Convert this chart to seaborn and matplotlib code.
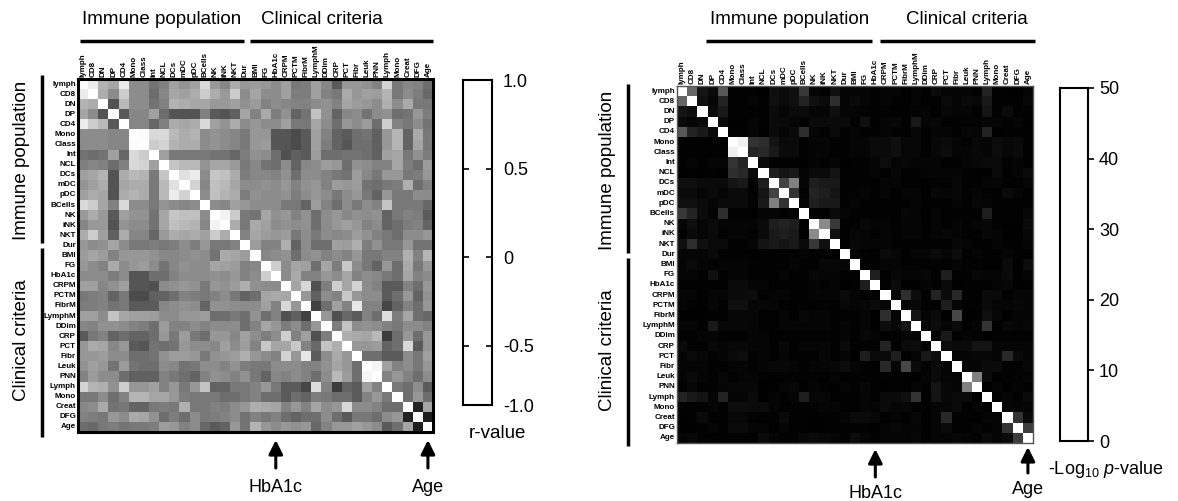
import numpy as np
import matplotlib
matplotlib.use("Agg")
import matplotlib.pyplot as plt
import matplotlib.transforms as mtransforms
from matplotlib.lines import Line2D
import seaborn as sns

# ---------------- data ----------------
labels = ["lymph", "CD8", "DN", "DP", "CD4", "Mono", "Class", "Int", "NCL", "DCs",
          "mDC", "pDC", "BCells", "NK", "iNK", "NKT",
          "Dur", "BMI", "FG", "HbA1c", "CRPM", "PCTM", "FibrM", "LymphM", "DDim",
          "CRP", "PCT", "Fibr", "Leuk", "PNN", "Lymph", "Mono", "Creat", "DFG", "Age"]

# lower triangle of the Pearson r matrix (row i has i+1 values)
r_lower = [
    [1],
    [0.85, 1],
    [0.4, 0.35, 1],
    [0.3, 0.1, -0.35, 1],
    [0.85, 0.6, 0.45, -0.3, 1],
    [0.1, 0.1, 0.1, 0.05, 0.05, 1],
    [0.1, 0.1, 0.1, 0.05, 0.05, 0.97, 1],
    [-0.1, -0.15, -0.1, 0.25, -0.2, 0.7, 0.6, 1],
    [0.0, 0.05, 0.0, -0.15, 0.0, 0.7, 0.65, 0.25, 1],
    [0.25, 0.3, 0.4, -0.35, 0.35, 0.45, 0.4, -0.05, 0.55, 1],
    [0.15, 0.25, 0.35, -0.35, 0.3, 0.35, 0.35, -0.05, 0.45, 0.75, 1],
    [0.25, 0.35, 0.3, -0.35, 0.35, 0.4, 0.35, -0.05, 0.45, 0.85, 0.65, 1],
    [0.7, 0.6, 0.3, 0.0, 0.7, 0.1, 0.1, -0.05, 0.15, 0.1, 0.05, 0.1, 1],
    [0.2, 0.35, 0.2, -0.3, 0.25, 0.15, 0.15, -0.1, 0.3, 0.55, 0.5, 0.5, 0.1, 1],
    [0.05, 0.2, 0.2, -0.35, 0.15, 0.1, 0.1, -0.1, 0.3, 0.5, 0.45, 0.4, 0.05, 0.9, 1],
    [0.35, 0.6, 0.25, -0.25, 0.35, 0.05, 0.05, -0.2, 0.2, 0.35, 0.3, 0.35, 0.25, 0.6, 0.35, 1],
    [0.18, 0.1, 0.14, 0.29, 0.1, -0.06, -0.06, -0.02, -0.06, -0.02, 0.1, -0.02, 0.18, -0.06, -0.06, 0.02, 1],
    [0.22, 0.29, 0.22, 0.02, 0.18, 0.18, 0.18, 0.14, 0.06, 0.06, 0.1, 0.14, 0.1, -0.1, 0.33, 0.29, 0.22, 1],
    [0.18, 0.1, 0.02, 0.33, 0.1, 0.18, 0.22, 0.1, -0.1, 0.06, 0.14, 0.1, 0.1, 0.29, 0.25, 0.22, 0.02, 0.06, 1],
    [0.1, 0.1, 0.1, -0.02, 0.1, -0.33, -0.33, -0.14, -0.14, 0.02, 0.1, 0.1, 0.1, 0.14, 0.1, 0.18, 0.02, 0.1, 0.61, 1],
    [0.25, 0.25, 0.06, 0.14, 0.25, -0.33, -0.33, -0.37, 0.1, 0.14, 0.18, 0.14, -0.06, 0.18, 0.14, 0.22, 0.37, 0.14, 0.1, 0.1, 1],
    [-0.06, -0.02, 0.02, -0.22, -0.06, -0.41, -0.41, -0.25, -0.22, -0.14, 0.02, -0.02, -0.06, 0.02, 0.1, -0.06, -0.22, -0.14, 0.29, 0.33, 0.29, 1],
    [-0.02, -0.02, 0.02, -0.1, -0.06, -0.29, -0.29, -0.29, 0.06, 0.1, 0.14, 0.1, -0.22, 0.14, 0.14, 0.1, 0.1, 0.1, 0.25, 0.02, 0.69, 0.18, 1],
    [0.25, 0.25, 0.1, 0.53, 0.29, 0.25, 0.25, 0.22, 0.1, 0.1, 0.18, 0.18, 0.22, -0.14, -0.14, -0.06, -0.14, 0.14, -0.14, 0.02, -0.37, -0.25, -0.49, 1],
    [0.06, 0.02, 0.14, 0.14, 0.1, 0.02, -0.02, -0.14, 0.22, 0.02, 0.02, 0.1, 0.02, 0.1, 0.1, 0.1, -0.14, 0.02, 0.29, 0.18, -0.02, 0.1, -0.14, 0.18, 1],
    [-0.29, -0.06, 0.02, -0.22, -0.14, -0.22, -0.22, -0.14, 0.18, -0.06, 0.22, -0.06, -0.14, 0.18, 0.18, 0.06, 0.25, 0.1, -0.02, 0.1, 0.61, 0.02, 0.25, -0.37, -0.02, 1],
    [0.18, 0.33, 0.29, 0.06, 0.18, -0.29, -0.33, -0.1, -0.14, -0.1, 0.18, 0.1, 0.1, 0.06, 0.25, 0.1, 0.22, 0.02, 0.57, 0.29, 0.29, 0.57, 0.02, -0.18, 0.53, 0.37, 1],
    [0.18, 0.18, 0.22, 0.1, 0.1, -0.14, -0.14, -0.1, 0.14, 0.22, 0.22, 0.18, -0.06, 0.14, 0.18, 0.22, 0.37, 0.18, 0.1, 0.02, 0.65, 0.18, 0.8, -0.29, 0.1, 0.33, 0.18, 1],
    [0.14, 0.25, 0.18, -0.1, 0.22, -0.1, -0.14, -0.14, 0.1, 0.06, -0.1, -0.06, 0.1, 0.1, 0.02, 0.14, -0.02, -0.06, -0.06, 0.1, 0.1, 0.1, 0.02, 0.02, 0.14, 0.29, 0.18, -0.14, 1],
    [0.02, 0.22, 0.1, 0.1, -0.14, -0.25, -0.25, -0.25, 0.02, -0.06, -0.14, -0.22, 0.02, 0.14, 0.1, 0.02, 0.14, -0.06, -0.22, 0.06, 0.02, 0.1, 0.02, -0.14, 0.1, 0.45, 0.22, -0.14, 0.92, 1],
    [0.65, 0.41, 0.37, 0.14, 0.61, 0.18, 0.18, 0.25, 0.02, 0.18, -0.06, 0.18, 0.53, -0.22, -0.22, -0.06, -0.06, 0.02, 0.18, -0.06, -0.29, -0.29, -0.45, 0.73, 0.02, -0.53, -0.22, -0.29, 0.25, 0.02, 1],
    [-0.06, -0.06, 0.1, -0.14, 0.02, 0.41, 0.41, 0.29, 0.29, 0.18, -0.02, -0.06, -0.06, -0.06, -0.14, -0.14, -0.06, 0.02, -0.14, -0.14, -0.29, -0.14, -0.22, -0.02, -0.06, -0.14, -0.14, -0.29, 0.02, 0.18, -0.06, 1],
    [0.06, 0.1, 0.33, -0.1, -0.06, -0.22, -0.22, -0.06, -0.02, -0.06, 0.37, -0.06, -0.06, 0.02, -0.02, 0.1, 0.18, 0.37, 0.33, 0.29, 0.02, 0.18, 0.02, 0.29, 0.1, 0.18, 0.69, 0.1, 0.1, 0.02, -0.14, -0.14, 1],
    [0.02, -0.02, -0.06, 0.18, 0.1, 0.33, 0.29, 0.14, -0.14, -0.02, -0.14, 0.1, -0.06, -0.02, 0.02, 0.1, -0.1, 0.02, -0.06, 0.02, -0.14, -0.22, -0.14, -0.14, 0.1, -0.14, -0.29, -0.06, -0.06, -0.14, 0.1, 0.18, -0.73, 1],
    [-0.14, -0.18, -0.06, -0.02, -0.1, -0.06, -0.06, -0.02, 0.22, 0.18, 0.02, 0.1, -0.18, -0.29, -0.22, 0.18, -0.1, 0.41, 0.18, 0.1, 0.18, 0.14, 0.18, -0.18, 0.02, 0.18, 0.18, 0.25, 0.18, 0.1, -0.29, -0.14, 0.29, -0.76, 1],
]

# lower triangle of the -log10 p-value matrix
logp_lower = [
    [50],
    [20, 50],
    [4, 3, 50],
    [2, 1, 2, 50],
    [17, 7, 5, 2, 50],
    [0.5, 0.5, 0.5, 0.3, 0.5, 50],
    [0.5, 0.5, 0.5, 0.3, 0.5, 47, 50],
    [0.5, 1, 0.5, 1, 1, 10, 7, 50],
    [0.3, 0.5, 0.3, 0.5, 0.3, 9, 8, 2, 50],
    [3, 3, 2, 2, 2, 4, 5, 0.5, 6, 50],
    [2, 2, 1, 2, 1, 2, 2, 0.5, 4, 13, 50],
    [3, 3, 2, 1, 2, 2, 2, 0.5, 5, 25, 10, 50],
    [11, 7, 2, 0.5, 9, 0.5, 0.5, 0.3, 1, 1, 0.5, 1, 50],
    [1, 3, 1, 2, 1, 1, 1, 1, 2, 6, 7, 6, 0.5, 50],
    [0.5, 2, 1, 2, 0.5, 1, 1, 0.5, 2, 5, 6, 5, 0.3, 27, 50],
    [3, 9, 3, 2, 2, 0.5, 0.5, 1, 4, 5, 4, 5, 2, 11, 3, 50],
    [1, 1, 1, 2, 0.5, 0.5, 0.5, 0.3, 0.5, 0.5, 0.5, 0.5, 1, 0.5, 0.5, 0.3, 50],
    [1, 2, 1, 0.5, 1, 1, 1, 0.5, 0.5, 0.5, 0.5, 1, 0.5, 0.5, 1.5, 1.5, 1, 50],
    [1, 1, 0.5, 3, 0.5, 1, 1, 0.5, 0.5, 0.5, 1, 0.5, 0.5, 1.5, 1, 1, 0.5, 0.5, 50],
    [0.5, 0.5, 0.5, 0.3, 0.5, 2, 2, 1, 1, 0.3, 0.5, 0.5, 0.5, 1, 0.5, 1, 0.3, 0.5, 6, 50],
    [1, 1, 0.5, 1, 1, 2, 2, 2.5, 0.5, 1, 1, 0.5, 0.5, 1, 1, 1, 2, 1, 0.5, 0.5, 50],
    [1, 0.5, 0.3, 1.5, 0.5, 3, 3, 1, 1.5, 1, 0.3, 0.3, 0.5, 0.3, 0.5, 0.5, 1.5, 1, 1.5, 2, 1.5, 50],
    [0.3, 0.3, 0.3, 0.5, 0.5, 1.5, 1.5, 1.5, 0.5, 0.5, 1, 0.5, 1.5, 1, 1, 0.5, 0.5, 0.5, 1, 0.3, 9, 1, 50],
    [1, 1, 0.5, 5, 1.5, 1.5, 1.5, 1, 0.5, 0.5, 1, 1, 1, 1, 1, 0.5, 1, 0.5, 1, 0.3, 2.5, 1.5, 4, 50],
    [0.5, 0.3, 1, 1, 0.5, 0.3, 0.3, 1, 1, 0.3, 0.3, 0.5, 0.3, 0.5, 0.5, 0.5, 1, 0.3, 1.5, 1, 0.3, 0.5, 1, 1, 50],
    [2, 0.5, 0.3, 1.5, 1, 1.5, 1.5, 1, 1, 0.5, 1.5, 0.5, 1, 1, 1, 0.5, 2, 0.5, 0.3, 0.5, 7, 0.3, 2, 2.5, 0.3, 50],
    [1, 2, 1.5, 0.5, 1, 2, 2.5, 0.5, 1, 0.5, 1, 0.5, 0.5, 0.5, 1.5, 0.5, 1, 0.3, 6, 2, 2, 6, 0.3, 1, 5, 2.5, 50],
    [1, 1, 1, 0.5, 0.5, 1, 1, 0.5, 1, 1.5, 1.5, 1, 0.5, 1, 1, 1.5, 2.5, 1, 0.5, 0.3, 8, 1, 14, 2, 0.5, 2, 1, 50],
    [1, 2, 1, 0.5, 1.5, 0.5, 1, 1, 0.5, 0.3, 0.5, 0.5, 0.5, 0.5, 0.3, 1, 0.3, 0.5, 0.5, 0.5, 0.5, 0.5, 0.3, 0.3, 1, 2, 1, 1, 50],
    [0.3, 1.5, 0.5, 0.5, 1, 1.5, 1.5, 1.5, 0.3, 0.5, 1, 1.5, 0.3, 1, 0.5, 0.3, 1, 0.5, 1.5, 0.5, 0.3, 0.5, 0.3, 1, 0.5, 4, 1.5, 1, 25, 50],
    [7, 5, 4, 1, 7, 1, 1, 2, 0.3, 1, 0.5, 1, 6, 1.5, 1.5, 0.5, 0.5, 0.3, 1, 0.5, 2, 2, 3, 10, 0.3, 4, 1.5, 2, 2, 0.3, 50],
    [0.5, 0.5, 0.5, 1, 0.3, 2.5, 2.5, 2, 2, 1, 0.3, 0.5, 0.5, 0.5, 1, 1, 0.5, 0.3, 1, 1, 2, 1, 1.5, 0.3, 0.5, 1, 1, 2, 0.3, 1, 0.5, 50],
    [0.3, 0.5, 2, 0.5, 0.5, 1.5, 1.5, 0.5, 0.3, 0.5, 2, 0.5, 0.5, 0.3, 0.3, 0.5, 1, 2, 2, 1.5, 0.3, 1, 0.3, 1.5, 0.5, 1, 8, 0.5, 0.5, 0.3, 1, 1, 50],
    [0.3, 0.3, 0.5, 1, 0.5, 2, 2, 1, 1, 0.3, 1, 0.5, 0.5, 0.3, 0.3, 0.5, 0.5, 0.3, 0.5, 0.3, 1, 1.5, 1, 1, 0.5, 1, 2, 0.5, 0.5, 1, 0.5, 1, 10, 50],
    [1, 1.5, 0.5, 0.3, 0.5, 0.5, 0.5, 0.3, 2, 1, 0.3, 0.5, 1.5, 2, 1.5, 1, 0.5, 2.5, 1, 0.5, 1, 1, 1, 1.5, 0.3, 1, 1, 1.5, 1, 0.5, 2, 1, 2, 12, 50],
]

r_tick_labels = ["1.0", "0.5", "0", "-0.5", "-1.0"]
p_ticks = [0, 10, 20, 30, 40, 50]


def full_matrix(lower):
    n = len(lower)
    m = np.zeros((n, n))
    for i, row in enumerate(lower):
        for j, v in enumerate(row):
            m[i, j] = v
            m[j, i] = v
    return m


R = full_matrix(r_lower)
P = full_matrix(logp_lower)

# ---------------- style ----------------
sns.set_theme(style="white")
plt.rcParams["font.family"] = ["Liberation Sans", "DejaVu Sans"]
plt.rcParams["mathtext.fontset"] = "custom"
plt.rcParams["mathtext.rm"] = "Liberation Sans"
plt.rcParams["mathtext.it"] = "Liberation Sans:italic"
for key in ["text.color", "axes.labelcolor", "xtick.color", "ytick.color"]:
    plt.rcParams[key] = "black"

W, H = 1178, 501
fig = plt.figure(figsize=(W / 100, H / 100), dpi=100)
fig.patch.set_facecolor("white")


def rect(x0, y0, x1, y1):
    return [x0 / W, 1 - y1 / H, (x1 - x0) / W, (y1 - y0) / H]


def fx(x):
    return x / W


def fy(y):
    return 1 - y / H


def line(x0, y0, x1, y1, lw=2.5):
    fig.add_artist(Line2D([fx(x0), fx(x1)], [fy(y0), fy(y1)], transform=fig.transFigure,
                          color="black", lw=lw, solid_capstyle="butt"))


TICK_FS = 5.8


def style_heatmap(ax, frame_lw, frame_color):
    ax.xaxis.tick_top()
    ax.tick_params(length=0, pad=1.5, colors="black")
    plt.setp(ax.get_xticklabels(), rotation=90, ha="center", va="bottom",
             fontsize=TICK_FS, fontweight="bold", color="black")
    plt.setp(ax.get_yticklabels(), rotation=0, ha="right", va="center",
             fontsize=TICK_FS, fontweight="bold", color="black")
    for s in ax.spines.values():
        s.set_visible(True)
        s.set_linewidth(frame_lw)
        s.set_color(frame_color)


# ---------------- left heatmap (r) ----------------
ax1 = fig.add_axes(rect(78, 79, 433, 432))
sns.heatmap(R, ax=ax1, cmap="gray", vmin=-1, vmax=1, cbar=False,
            xticklabels=labels, yticklabels=labels)
style_heatmap(ax1, 2.2, "black")

# left colour bar box (blank, as in the original)
cax1 = fig.add_axes(rect(463, 80, 492, 405))
cax1.set_facecolor("white")
cax1.set_xlim(0, 1)
bottom_val = -0.836
cax1.set_ylim(bottom_val, 1.0)
cax1.set_xticks([])
cax1.set_yticks([1.0, 0.5, 0, -0.5, bottom_val])
cax1.set_yticklabels(r_tick_labels)
cax1.tick_params(axis="y", which="both", direction="in", left=True, right=True,
                 labelleft=False, labelright=True, length=4, width=1.2,
                 labelsize=13, pad=8, colors="black")
for s in cax1.spines.values():
    s.set_linewidth(1.5)
    s.set_color("black")
fig.text(fx(497), fy(434), "r-value", ha="center", va="center", fontsize=13.5)

# ---------------- right heatmap (-log10 p) ----------------
ax2 = fig.add_axes(rect(677, 86, 1033, 443))
sns.heatmap(P, ax=ax2, cmap="gray", vmin=0, vmax=50, cbar=False,
            xticklabels=labels, yticklabels=labels)
style_heatmap(ax2, 1.0, "#555555")

cax2 = fig.add_axes(rect(1060, 88, 1088, 441))
cax2.set_facecolor("white")
cax2.set_xlim(0, 1)
cax2.set_ylim(0, 50)
cax2.set_xticks([])
cax2.set_yticks(p_ticks)
cax2.set_yticklabels([str(t) for t in p_ticks])
cax2.tick_params(axis="y", direction="out", left=False, right=True,
                 labelleft=False, labelright=True, length=4, width=1.2,
                 labelsize=13, pad=4, colors="black")
for s in cax2.spines.values():
    s.set_linewidth(1.5)
    s.set_color("black")
fig.text(fx(1106), fy(469), "-Log$_{10}$ $p$-value", ha="center", va="center", fontsize=13)

# ---------------- group brackets ----------------
gfs = 13.5
# left panel, top
fig.text(fx(162), fy(20), "Immune population", ha="center", va="center", fontsize=gfs)
fig.text(fx(322), fy(20), "Clinical criteria", ha="center", va="center", fontsize=gfs)
line(80, 41, 244, 41)
line(250, 41, 433, 41)
# left panel, side
fig.text(fx(22), fy(160), "Immune population", ha="center", va="center", fontsize=gfs, rotation=90)
fig.text(fx(22), fy(340), "Clinical criteria", ha="center", va="center", fontsize=gfs, rotation=90)
line(42, 75, 42, 243)
line(42, 248, 42, 437)
# right panel, top
fig.text(fx(790), fy(20), "Immune population", ha="center", va="center", fontsize=gfs)
fig.text(fx(967), fy(20), "Clinical criteria", ha="center", va="center", fontsize=gfs)
line(706, 41, 872, 41)
line(880, 41, 1035, 41)
# right panel, side
fig.text(fx(608), fy(170), "Immune population", ha="center", va="center", fontsize=gfs, rotation=90)
fig.text(fx(608), fy(350), "Clinical criteria", ha="center", va="center", fontsize=gfs, rotation=90)
line(628, 84, 628, 253)
line(628, 258, 628, 446)

# ---------------- arrows ----------------
def arrow(ax, idx, label, y_head, y_tail, y_text):
    tr = mtransforms.blended_transform_factory(ax.transData, fig.transFigure)
    ax.annotate("", xy=(idx + 0.5, fy(y_head)), xycoords=tr,
                xytext=(idx + 0.5, fy(y_tail)), textcoords=tr,
                arrowprops=dict(arrowstyle="-|>,head_length=0.7,head_width=0.35",
                                lw=2.2, color="black", shrinkA=0, shrinkB=0),
                annotation_clip=False)
    ax.text(idx + 0.5, fy(y_text), label, transform=tr, ha="center", va="center",
            fontsize=13, clip_on=False, color="black")


i_hba1c = labels.index("HbA1c")
i_age = len(labels) - 1
arrow(ax1, i_hba1c, "HbA1c", 440, 468, 487)
arrow(ax1, i_age, "Age", 440, 468, 487)
arrow(ax2, i_hba1c, "HbA1c", 449, 477, 493)
arrow(ax2, i_age, "Age", 447, 473, 490)

fig.savefig("out.png", dpi=100, facecolor="white")
